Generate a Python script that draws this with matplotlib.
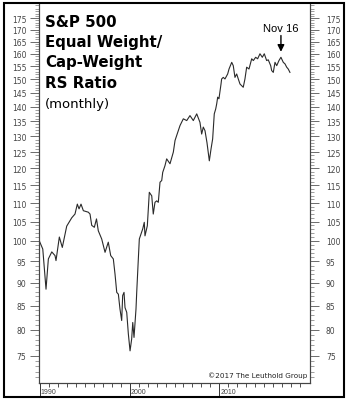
import matplotlib
matplotlib.use("Agg")
import matplotlib.pyplot as plt
import matplotlib.transforms as mtransforms
from matplotlib.patches import Rectangle
from matplotlib.ticker import FixedLocator, NullFormatter

# Monthly RS ratio, equal weight / cap weight (decimal years)
years = [
    1989.98, 1990.36, 1990.72, 1990.98, 1991.36, 1991.72, 1991.83, 1992.20,
    1992.53, 1993.02, 1993.58, 1993.94, 1994.20, 1994.39, 1994.61, 1994.87,
    1995.42, 1995.61, 1995.80, 1996.09, 1996.33, 1996.53, 1996.91, 1997.28,
    1997.64, 1997.91, 1998.20, 1998.39, 1998.58, 1998.76, 1998.94, 1999.13,
    1999.24, 1999.39, 1999.50, 1999.69, 1999.87, 2000.06, 2000.24, 2000.36,
    2000.50, 2000.72, 2000.80, 2000.98, 2001.09, 2001.47, 2001.64, 2001.72,
    2001.98, 2002.20, 2002.47, 2002.64, 2002.83, 2003.02, 2003.20, 2003.39,
    2003.58, 2003.69, 2003.94, 2004.13, 2004.50, 2004.87, 2005.06, 2005.24,
    2005.61, 2005.98, 2006.36, 2006.72, 2007.09, 2007.47, 2007.83, 2008.02,
    2008.20, 2008.39, 2008.61, 2008.87, 2009.06, 2009.24, 2009.42, 2009.58,
    2009.69, 2009.80, 2009.94, 2010.17, 2010.24, 2010.42, 2010.61, 2010.91,
    2011.06, 2011.36, 2011.53, 2011.72, 2011.91, 2012.09, 2012.28, 2012.64,
    2012.83, 2013.02, 2013.28, 2013.58, 2013.76, 2014.02, 2014.24, 2014.50,
    2014.76, 2014.98, 2015.24, 2015.42, 2015.69, 2015.80, 2015.98, 2016.17,
    2016.36, 2016.61, 2016.83, 2017.09, 2017.28, 2017.47, 2017.64, 2017.83,
]
ratio = [
    100.0, 98.0, 88.6, 95.6, 97.3, 96.4, 95.2, 101.0,
    98.4, 103.8, 106.0, 107.0, 109.7, 108.4, 109.7, 107.9,
    107.5, 107.0, 104.0, 103.5, 105.7, 102.6, 100.5, 97.2,
    99.7, 96.4, 95.6, 92.0, 87.9, 87.5, 84.3, 81.9,
    87.2, 87.9, 84.6, 83.6, 79.2, 75.9, 78.2, 81.5,
    78.5, 84.3, 87.9, 95.6, 100.5, 103.1, 104.8, 101.3,
    103.9, 113.0, 112.0, 107.0, 110.2, 110.6, 110.2, 115.9,
    116.4, 118.8, 120.8, 122.9, 121.4, 125.0, 128.7, 130.3,
    133.6, 135.9, 135.3, 137.0, 135.3, 137.6, 134.7, 130.8,
    133.1, 131.9, 128.0, 122.3, 126.0, 129.2, 137.6, 139.3,
    141.1, 143.5, 142.9, 148.3, 150.2, 150.8, 150.2, 152.1,
    154.0, 156.6, 155.3, 150.8, 152.1, 150.2, 148.3, 147.1,
    150.2, 154.7, 154.0, 158.0, 157.3, 158.6, 158.0, 160.0,
    158.6, 160.0, 157.3, 157.6, 155.3, 153.4, 152.7, 156.6,
    155.3, 157.3, 158.6, 156.6, 156.0, 154.7, 154.0, 152.7,
]

y_major = list(range(75, 180, 5))
y_minor = [v for v in range(71, 182) if v % 5]
decades = [1990, 2000, 2010]
year_ticks = [y for y in range(1991, 2020) if y % 10]

title_lines = ["S&P 500", "Equal Weight/", "Cap-Weight", "RS Ratio"]
subtitle = "(monthly)"
callout_date = 2016.83
callout_label = "Nov 16"
credit = "\u00a92017 The Leuthold Group"

W, H = 350, 406
fig = plt.figure(figsize=(W / 100, H / 100), dpi=100)
fig.patch.set_facecolor("white")

# plot box in pixel terms: x 39..310, y 5..383.5 (from top)
ax = fig.add_axes([39 / W, (H - 383.5) / H, 271 / W, 378.5 / H])
ax.plot(years, ratio, color="#2a2a2a", lw=0.8)

ax.set_xlim(1989.94, 2020.06)

# same log scale on both sides; the right side gets its own axis for spacing
ax2 = ax.twinx()
for a, side, pad in [(ax, "left", 2.5), (ax2, "right", 5)]:
    a.set_yscale("log")
    a.set_ylim(70.1, 181.3)
    a.set_yticks(y_major, labels=[str(v) for v in y_major])
    a.yaxis.set_minor_locator(FixedLocator(y_minor))
    a.yaxis.set_minor_formatter(NullFormatter())
    a.tick_params(axis="y", which="both", direction="out")
    a.tick_params(axis="y", which="major", length=6.5, width=0.6,
                  color="#555555", labelsize=5.5, labelcolor="#444444", pad=pad)
    a.tick_params(axis="y", which="minor", length=2.9, width=0.5,
                  color="#777777")

ax.set_xticks(decades, labels=[])
ax.xaxis.set_minor_locator(FixedLocator(year_ticks))
ax.tick_params(axis="x", which="major", direction="out", length=10.4, width=0.7,
               color="#333333")
ax.tick_params(axis="x", which="minor", direction="out", length=2.9, width=0.6,
               color="#333333")

trans = mtransforms.blended_transform_factory(ax.transData, ax.transAxes)
for d in decades:
    ax.text(d + 0.15, -0.0225, str(d), transform=trans, fontsize=5,
            ha="left", va="center", color="#444444", family="Liberation Sans")

for a in (ax, ax2):
    a.spines["top"].set_visible(False)
    for side in ["left", "right", "bottom"]:
        a.spines[side].set_linewidth(0.8)
        a.spines[side].set_color("#444444")

# title block
baselines = [0.942, 0.889, 0.836, 0.781]
for line, yb in zip(title_lines, baselines):
    ax.text(0.022, yb, line, transform=ax.transAxes, fontsize=10.8,
            fontweight="bold", ha="left", va="baseline", color="black")
ax.text(0.022, 0.728, subtitle, transform=ax.transAxes, fontsize=9.5,
        ha="left", va="baseline", color="black")

# Nov 16 arrow
ax.annotate("", xy=(callout_date, 160.8), xytext=(callout_date, 167.5),
            arrowprops=dict(arrowstyle="-|>", color="black", lw=1,
                            mutation_scale=10, shrinkA=0, shrinkB=0))
ax.text(callout_date, 169.6, callout_label, fontsize=8, ha="center",
        va="baseline", family="Liberation Sans", color="black")

ax.text(0.989, 0.0206, credit, transform=ax.transAxes, fontsize=5.2,
        ha="right", va="center", color="#222222")

fig.add_artist(Rectangle((4 / W, 8 / H), 340 / W, 394 / H,
                         transform=fig.transFigure, fill=False,
                         lw=1.5, ec="black"))

fig.savefig("out.png", dpi=100)
